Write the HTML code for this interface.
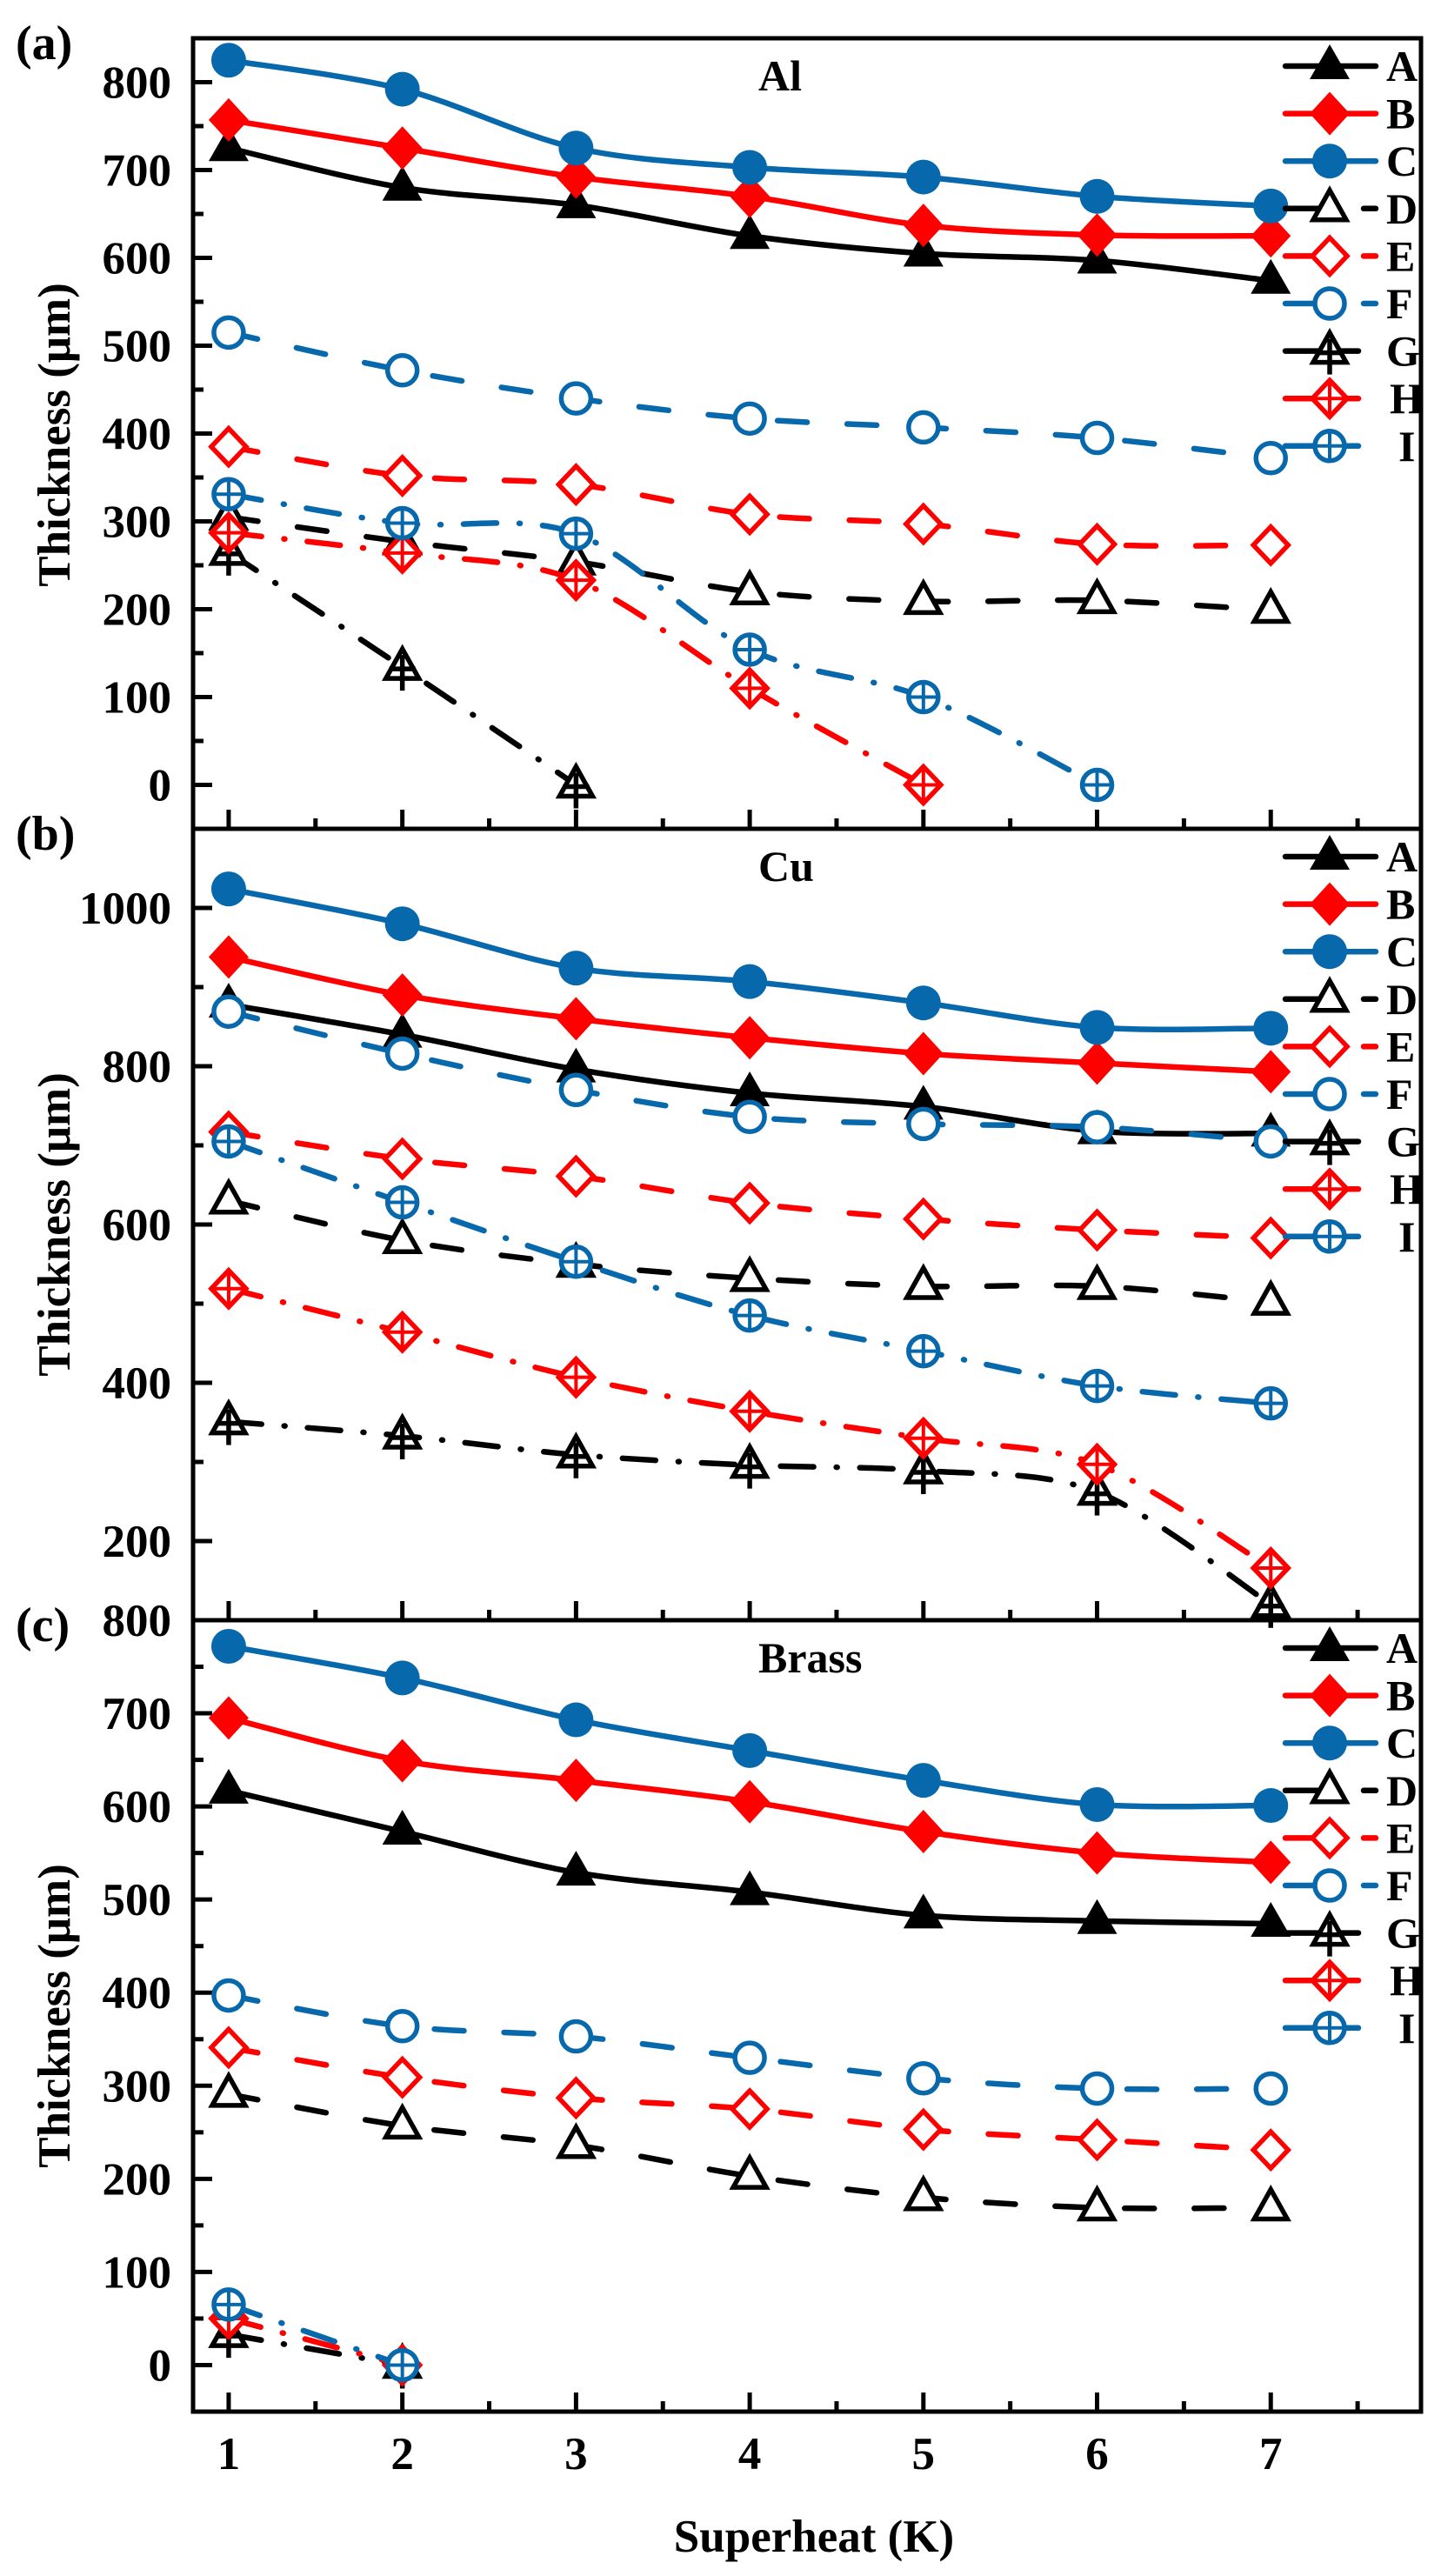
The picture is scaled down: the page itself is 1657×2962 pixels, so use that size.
<!DOCTYPE html>
<html><head><meta charset="utf-8"><style>
html,body{margin:0;padding:0;background:#fff;}
svg{display:block;font-family:"Liberation Serif",serif;font-weight:bold;}
</style></head><body>
<svg id="chart" width="1657" height="2962" viewBox="0 0 1657 2962" xmlns="http://www.w3.org/2000/svg"></svg>
<script>
const xCategories = [1,2,3,4,5,6,7];
const seriesNames = ["A","B","C","D","E","F","G","H","I"];
const alA=[725,680,660,625,605,597,574];
const alB=[757,725,692,670,637,626,625];
const alC=[825,792,725,703,692,670,659];
const alD=[305,277,254,220,209,210,199];
const alE=[385,352,342,308,297,274,273];
const alF=[515,472,440,417,407,395,372];
const alG=[265,134,0];
const alH=[287,264,233,110,0];
const alI=[331,298,286,154,100,0];
const cuA=[878,840,796,766,749,718,715];
const cuB=[938,890,860,836,816,804,793];
const cuC=[1024,980,924,907,880,849,848];
const cuD=[630,580,550,532,522,522,502];
const cuE=[717,683,661,627,607,593,583];
const cuF=[869,816,770,736,727,723,705];
const cuG=[351,333,309,296,289,262,120];
const cuH=[519,464,407,364,330,297,166];
const cuI=[705,628,553,485,440,396,374];
const brA=[617,573,529,508,483,477,474];
const brB=[695,649,628,605,573,550,540];
const brC=[772,738,693,660,628,602,601];
const brD=[291,257,236,203,180,169,169];
const brE=[341,309,287,275,253,242,231];
const brF=[397,364,353,330,308,297,297];
const brG=[33,0];
const brH=[50,0];
const brI=[65,0];
const alTicks=[0,100,200,300,400,500,600,700,800];
const cuTicks=[200,400,600,800,1000];
const brTicks=[0,100,200,300,400,500,600,700,800];

const NS="http://www.w3.org/2000/svg";
const svg=document.getElementById("chart");
const BLACK="#000",RED="#ff0000",BLUE="#0868ac";
const colors=[BLACK,RED,BLUE,BLACK,RED,BLUE,BLACK,RED,BLUE];
const markers=["tri","dia","circ","otri","odia","ocirc","gtri","hdia","icirc"];
const dashes=[null,null,null,"34 46","34 46","34 46","38 26 1 26","38 26 1 26","38 26 1 26"];
const X0=222,X1=1634;
const xMin=0.795,xMax=7.865;
function xs(v){return X0+(v-xMin)/(xMax-xMin)*(X1-X0);}
function mk(tag,attrs,parent){const e=document.createElementNS(NS,tag);for(const k in attrs)e.setAttribute(k,attrs[k]);(parent||svg).appendChild(e);return e;}

function drawMarker(g,type,cx,cy,col){
  const sw=5.5;
  if(type==="tri"||type==="otri"||type==="gtri"){
    const p=`${cx},${cy-25} ${cx-23},${cy+15} ${cx+23},${cy+15}`;
    if(type==="tri")mk("polygon",{points:p,fill:col},g);
    else mk("polygon",{points:`${cx},${cy-21} ${cx-19},${cy+13} ${cx+19},${cy+13}`,fill:"#fff",stroke:col,"stroke-width":sw,"stroke-linejoin":"miter"},g);
    if(type==="gtri"){mk("line",{x1:cx,y1:cy-14,x2:cx,y2:cy+27,stroke:col,"stroke-width":sw},g);mk("line",{x1:cx-15,y1:cy+2,x2:cx+15,y2:cy+2,stroke:col,"stroke-width":sw},g);}
  }else if(type==="dia"||type==="odia"||type==="hdia"){
    if(type==="dia")mk("polygon",{points:`${cx},${cy-25} ${cx+23},${cy} ${cx},${cy+25} ${cx-23},${cy}`,fill:col},g);
    else mk("polygon",{points:`${cx},${cy-21} ${cx+20},${cy} ${cx},${cy+21} ${cx-20},${cy}`,fill:"#fff",stroke:col,"stroke-width":sw},g);
    if(type==="hdia"){mk("line",{x1:cx,y1:cy-19,x2:cx,y2:cy+19,stroke:col,"stroke-width":4},g);mk("line",{x1:cx-18,y1:cy,x2:cx+18,y2:cy,stroke:col,"stroke-width":4},g);}
  }else{
    if(type==="circ")mk("circle",{cx:cx,cy:cy,r:20,fill:col},g);
    else mk("circle",{cx:cx,cy:cy,r:17,fill:"#fff",stroke:col,"stroke-width":sw},g);
    if(type==="icirc"){mk("line",{x1:cx,y1:cy-17,x2:cx,y2:cy+17,stroke:col,"stroke-width":4},g);mk("line",{x1:cx-17,y1:cy,x2:cx+17,y2:cy,stroke:col,"stroke-width":4},g);}
  }
}
function smoothPath(pts){
  if(pts.length<3){return "M"+pts.map(p=>p[0]+","+p[1]).join(" L");}
  let d=`M${pts[0][0]},${pts[0][1]}`;
  for(let i=0;i<pts.length-1;i++){
    const p0=pts[Math.max(0,i-1)],p1=pts[i],p2=pts[i+1],p3=pts[Math.min(pts.length-1,i+2)];
    const t=0.16;
    d+=` C${p1[0]+(p2[0]-p0[0])*t},${p1[1]+(p2[1]-p0[1])*t} ${p2[0]-(p3[0]-p1[0])*t},${p2[1]-(p3[1]-p1[1])*t} ${p2[0]},${p2[1]}`;
  }
  return d;
}

function panel(cfg){
  const {top,bottom,yMin,yMax,ticks,minorStep,majorStep,series,label,letter,id}=cfg;
  function ys(v){return bottom-(v-yMin)/(yMax-yMin)*(bottom-top);}
  const g=mk("g",{});
  
  
  const yax=mk("g",{},g);
  
  
  for(let v=Math.ceil(yMin/minorStep)*minorStep; v<=yMax; v+=minorStep){
    const isMajor=Math.abs(v/majorStep-Math.round(v/majorStep))<1e-6;
    const y=ys(v);
    mk("line",{x1:X0,x2:X0+(isMajor?22:12),y1:y,y2:y,stroke:"#000","stroke-width":5},yax);
  }
  ticks.forEach(v=>{
    const t=mk("text",{x:197,y:ys(v)+18,"text-anchor":"end","font-size":53},yax);
    t.textContent=v;
    
    
  });
  const xax=mk("g",{},g);
  
  
  for(let v=1; v<=7.5; v+=0.5){
    const isMajor=Number.isInteger(v);
    const x=xs(v);
    mk("line",{x1:x,x2:x,y1:bottom,y2:bottom-(isMajor?22:12),stroke:"#000","stroke-width":5},xax);
  }
  series.forEach((vals,si)=>{
    const sg=mk("g",{},g);
    
    
    const pts=vals.map((v,i)=>[xs(xCategories[i]),ys(v)]);
    const a={d:smoothPath(pts),fill:"none",stroke:colors[si],"stroke-width":6.5,"stroke-linecap":"round","stroke-linejoin":"round"};
    if(dashes[si])a["stroke-dasharray"]=dashes[si];
    mk("path",a,sg);
    pts.forEach(p=>drawMarker(sg,markers[si],p[0],p[1],colors[si]));
  });
  const fr=mk("rect",{x:X0,y:top,width:X1-X0,height:bottom-top,fill:"none",stroke:"#000","stroke-width":5},g);
  
  
  const tt=mk("text",{x:872,y:top+60,"font-size":50},g);
  tt.textContent=label;
  
  
  const lt=mk("text",{x:18,y:top+24,"font-size":56},g);
  lt.textContent=letter;
  
  
  const lg=mk("g",{},g);
  
  
  seriesNames.forEach((n,si)=>{
    const y=top+32+si*54.6;
    const e=mk("g",{},lg);
    
    
    const x2=si>=6?1562:1582;
    const la={x1:1478,x2:x2,y1:y,y2:y,stroke:colors[si],"stroke-width":6.5,"stroke-linecap":"round"};
    if(si>=3&&si<6)la["stroke-dasharray"]="52 38 18 0";
    mk("line",la,e);
    drawMarker(e,markers[si],1529,y,colors[si]);
    const tx=mk("text",{x:si===8?1608:(si===7?1598:1594),y:y+17,"font-size":50},e);
    tx.textContent=n;
  });
}

panel({id:"al",top:44,bottom:953,yMin:-50,yMax:850,ticks:alTicks,minorStep:50,majorStep:100,
  series:[alA,alB,alC,alD,alE,alF,alG,alH,alI],label:"Al",letter:"(a)"});
panel({id:"cu",top:953,bottom:1863,yMin:100,yMax:1100,ticks:cuTicks,minorStep:100,majorStep:200,
  series:[cuA,cuB,cuC,cuD,cuE,cuF,cuG,cuH,cuI],label:"Cu",letter:"(b)"});
panel({id:"brass",top:1863,bottom:2773,yMin:-50,yMax:800,ticks:brTicks,minorStep:50,majorStep:100,
  series:[brA,brB,brC,brD,brE,brF,brG,brH,brI],label:"Brass",letter:"(c)"});

xCategories.forEach(v=>{
  const t=mk("text",{x:xs(v),y:2839,"text-anchor":"middle","font-size":53});
  t.textContent=v;
  
  
});
const xt=mk("text",{x:936,y:2934,"text-anchor":"middle","font-size":53});
xt.textContent="Superheat (K)";


[500,1408,2318].forEach((cy,i)=>{
  const t=mk("text",{x:0,y:0,"text-anchor":"middle","font-size":53,transform:`translate(80,${cy}) rotate(-90)`});
  t.textContent="Thickness (\u03bcm)";
  
  
});
</script>
</body></html>
